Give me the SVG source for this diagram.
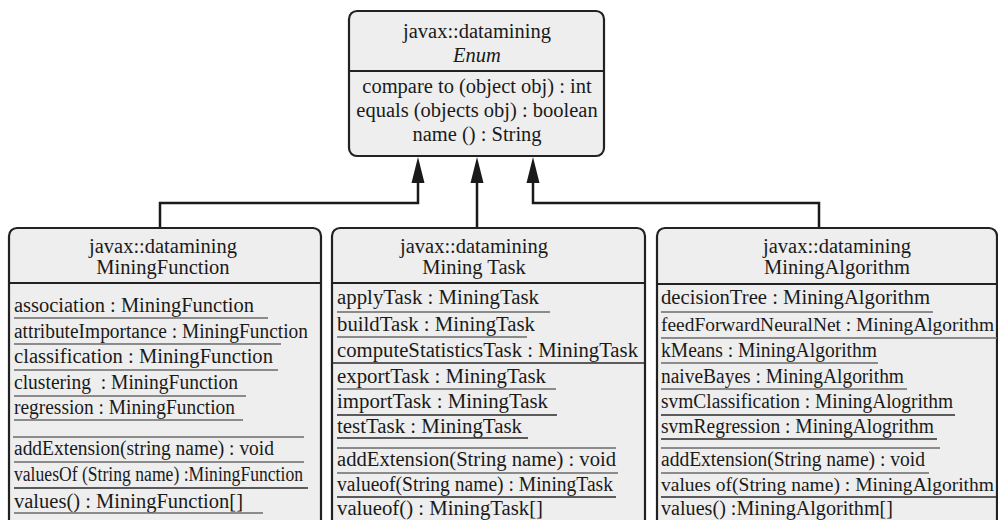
<svg xmlns="http://www.w3.org/2000/svg" width="998" height="520" viewBox="0 0 998 520">
<style>
.box{fill:#eeeeee;stroke:#222;stroke-width:2.2}
.div{stroke:#222;stroke-width:1.8}
.t{font-family:"Liberation Serif","Times New Roman",serif;font-size:20.5px;fill:#1a1a1a}
.s{font-size:19.2px}
.c{text-anchor:middle}
.u{stroke:#6a6a6a;stroke-width:1.3}
.ud{stroke:#2a2a2a;stroke-width:1.5}
.conn{fill:none;stroke:#1a1a1a;stroke-width:2.5}
.head{fill:#1a1a1a}
</style>
<rect width="998" height="520" fill="#ffffff"/>

<g id="connectors">
<path class="conn" d="M160,228 L160,203 L418,203 L418,180"/>
<path class="conn" d="M477,228 L477,180"/>
<path class="conn" d="M819,228 L819,203 L533,203 L533,180"/>
<polygon class="head" points="418,157 411.5,183 424.5,183"/>
<polygon class="head" points="477,157 470.5,183 483.5,183"/>
<polygon class="head" points="533,157 526.5,183 539.5,183"/>
</g>

<g id="enum">
<rect class="box" x="349" y="11" width="255" height="145" rx="8"/>
<line class="div" x1="349" y1="71" x2="604" y2="71"/>
<text class="t c" x="477" y="38">javax::datamining</text>
<text class="t c" x="477" y="62" font-style="italic">Enum</text>
<text class="t c" x="477" y="93">compare to (object obj) : int</text>
<text class="t c" x="477" y="117">equals (objects obj) : boolean</text>
<text class="t c" x="477" y="141">name () : String</text>
</g>

<g id="miningFunction">
<rect class="box" x="9" y="228" width="312" height="310" rx="8"/>
<line class="div" x1="9" y1="283" x2="321" y2="283"/>
<text class="t c" x="163" y="253">javax::datamining</text>
<text class="t c" x="163" y="274">MiningFunction</text>
<text class="t" x="14" y="312" textLength="240" lengthAdjust="spacingAndGlyphs">association : MiningFunction</text>
<line class="u" x1="14" y1="318" x2="268" y2="318"/>
<text class="t" x="14" y="338" textLength="294" lengthAdjust="spacingAndGlyphs">attributeImportance : MiningFunction</text>
<line class="u" x1="14" y1="344" x2="281" y2="344"/>
<text class="t" x="14" y="363" textLength="259" lengthAdjust="spacingAndGlyphs">classification : MiningFunction</text>
<line class="u" x1="14" y1="370" x2="278" y2="370"/>
<text class="t" x="14" y="389" textLength="224" lengthAdjust="spacingAndGlyphs" xml:space="preserve">clustering  : MiningFunction</text>
<line class="u" x1="14" y1="396" x2="246" y2="396"/>
<text class="t" x="14" y="414" textLength="221" lengthAdjust="spacingAndGlyphs">regression : MiningFunction</text>
<line class="u" x1="14" y1="420" x2="243" y2="420"/>
<line class="u" x1="13" y1="437" x2="304" y2="437"/>
<text class="t" x="14" y="455" textLength="260" lengthAdjust="spacingAndGlyphs">addExtension(string name) : void</text>
<line class="u" x1="14" y1="462" x2="304" y2="462"/>
<text class="t" x="14" y="481" textLength="289" lengthAdjust="spacingAndGlyphs">valuesOf (String name) :MiningFunction</text>
<line class="ud" x1="14" y1="488" x2="308" y2="488"/>
<text class="t" x="14" y="508" textLength="229" lengthAdjust="spacingAndGlyphs">values() : MiningFunction[]</text>
<line class="u" x1="14" y1="513" x2="263" y2="513"/>
</g>

<g id="miningTask">
<rect class="box" x="332" y="228" width="313" height="310" rx="8"/>
<line class="div" x1="332" y1="283" x2="645" y2="283"/>
<text class="t c" x="474" y="253">javax::datamining</text>
<text class="t c" x="474" y="274">Mining Task</text>
<text class="t" x="337" y="304" textLength="202" lengthAdjust="spacingAndGlyphs">applyTask : MiningTask</text>
<line class="u" x1="337" y1="312" x2="550" y2="312"/>
<text class="t" x="337" y="331" textLength="198" lengthAdjust="spacingAndGlyphs">buildTask : MiningTask</text>
<line class="u" x1="337" y1="337" x2="527" y2="337"/>
<text class="t" x="337" y="357" textLength="301" lengthAdjust="spacingAndGlyphs">computeStatisticsTask : MiningTask</text>
<line class="ud" x1="332" y1="363" x2="645" y2="363"/>
<text class="t" x="337" y="383" textLength="209" lengthAdjust="spacingAndGlyphs">exportTask : MiningTask</text>
<line class="u" x1="337" y1="389" x2="556" y2="389"/>
<text class="t" x="337" y="408" textLength="211" lengthAdjust="spacingAndGlyphs">importTask : MiningTask</text>
<line class="ud" x1="337" y1="415" x2="557" y2="415"/>
<text class="t" x="337" y="433" textLength="185" lengthAdjust="spacingAndGlyphs">testTask : MiningTask</text>
<line class="ud" x1="337" y1="438" x2="528" y2="438"/>
<line class="u" x1="337" y1="448" x2="616" y2="448"/>
<text class="t" x="337" y="466" textLength="279" lengthAdjust="spacingAndGlyphs">addExtension(String name) : void</text>
<line class="u" x1="337" y1="473" x2="618" y2="473"/>
<text class="t" x="337" y="491" textLength="276" lengthAdjust="spacingAndGlyphs">valueof(String name) : MiningTask</text>
<line class="ud" x1="337" y1="497" x2="616" y2="497"/>
<text class="t" x="337" y="515" textLength="206" lengthAdjust="spacingAndGlyphs">valueof() : MiningTask[]</text>
</g>

<g id="miningAlgorithm">
<rect class="box" x="657" y="228" width="340" height="310" rx="8"/>
<line class="div" x1="657" y1="284" x2="997" y2="284"/>
<text class="t c" x="837" y="253">javax::datamining</text>
<text class="t c" x="837" y="274">MiningAlgorithm</text>
<text class="t" x="661" y="304" textLength="269" lengthAdjust="spacingAndGlyphs">decisionTree : MiningAlgorithm</text>
<line class="u" x1="661" y1="312" x2="933" y2="312"/>
<text class="t s" x="661" y="331" textLength="333" lengthAdjust="spacingAndGlyphs">feedForwardNeuralNet : MiningAlgorithm</text>
<line class="u" x1="661" y1="338" x2="997" y2="338"/>
<text class="t" x="661" y="357" textLength="216" lengthAdjust="spacingAndGlyphs">kMeans : MiningAlgorithm</text>
<line class="u" x1="661" y1="363" x2="878" y2="363"/>
<text class="t" x="661" y="383" textLength="243" lengthAdjust="spacingAndGlyphs">naiveBayes : MiningAlgorithm</text>
<line class="u" x1="661" y1="389" x2="907" y2="389"/>
<text class="t" x="661" y="408" textLength="292" lengthAdjust="spacingAndGlyphs">svmClassification : MiningAlogrithm</text>
<line class="ud" x1="661" y1="415" x2="955" y2="415"/>
<text class="t" x="661" y="433" textLength="273" lengthAdjust="spacingAndGlyphs">svmRegression : MiningAlogrithm</text>
<line class="ud" x1="661" y1="439" x2="937" y2="439"/>
<line class="u" x1="661" y1="448" x2="940" y2="448"/>
<text class="t" x="661" y="466" textLength="264" lengthAdjust="spacingAndGlyphs">addExtension(String name) : void</text>
<line class="u" x1="661" y1="473" x2="929" y2="473"/>
<text class="t s" x="661" y="491" textLength="333" lengthAdjust="spacingAndGlyphs">values of(String name) : MiningAlgorithm</text>
<line class="ud" x1="661" y1="497" x2="997" y2="497"/>
<text class="t" x="661" y="515" textLength="232" lengthAdjust="spacingAndGlyphs">values() :MiningAlgorithm[]</text>
</g>
</svg>
